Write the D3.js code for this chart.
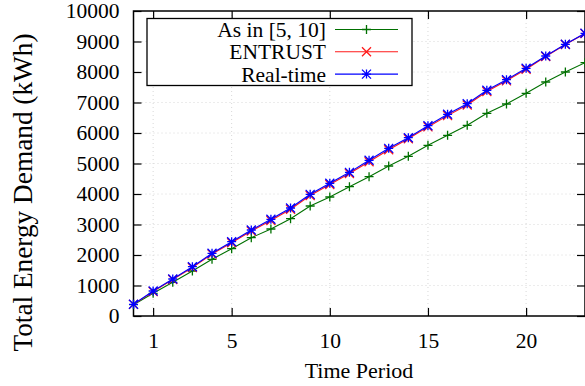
<!DOCTYPE html>
<html><head><meta charset="utf-8">
<script src="https://cdn.jsdelivr.net/npm/d3@7"></script>
<style>body{margin:0;background:#fff}svg{display:block}svg text{font-family:"Liberation Serif","Times New Roman","DejaVu Serif",serif !important;fill:#000}</style>
</head><body><svg id="c" width="585" height="386"></svg>
<script>
const periods = d3.range(0, 24);
const asIn = [370, 744, 1104, 1475, 1858, 2208, 2568, 2852, 3191, 3607, 3902, 4240, 4568, 4918, 5236, 5597, 5924, 6252, 6646, 6951, 7301, 7672, 8000, 8305];
const entrust = [380, 800, 1195, 1590, 2030, 2400, 2785, 3130, 3500, 3950, 4310, 4670, 5060, 5450, 5810, 6200, 6570, 6920, 7360, 7710, 8090, 8510, 8900, 9260];
const realtime = [384, 820, 1213, 1617, 2055, 2437, 2820, 3170, 3541, 3989, 4350, 4710, 5104, 5497, 5847, 6240, 6612, 6961, 7400, 7748, 8121, 8525, 8908, 9268];
const xTicks = [1, 5, 10, 15, 20];
const yTicks = d3.range(0, 10001, 1000);
const seriesNames = ["As in [5, 10]", "ENTRUST", "Real-time"];
const seriesColors = ["#007000", "#ff1a1a", "#0000ff"];
const seriesMarkers = ["plus", "cross", "star"];

const svg = d3.select("#c");
const L = 133.5, R = 585, T = 11, B = 316;
const x = d3.scaleLinear().domain([0, 23]).range([L, R]);
const y = d3.scaleLinear().domain([0, 10000]).range([B, T]);

// grid
const g = svg.append("g");
g.selectAll(".gx").data(xTicks).join("line")
  .attr("x1", d => x(d)).attr("x2", d => x(d)).attr("y1", T).attr("y2", B)
  .attr("stroke", "#d8d8d8").attr("stroke-dasharray", "1,3");
g.selectAll(".gy").data(yTicks.slice(1, -1)).join("line")
  .attr("x1", L).attr("x2", R).attr("y1", d => y(d)).attr("y2", d => y(d))
  .attr("stroke", "#d8d8d8").attr("stroke-dasharray", "1,3");

// axes
const tl = 8;
const ax = svg.append("g");
ax.append("g").attr("transform", `translate(0,${B})`)
  .call(d3.axisBottom(x).tickValues(xTicks).tickSize(-tl).tickPadding(17))
  .call(s => s.select(".domain").remove());
ax.append("g").attr("transform", `translate(0,${T})`)
  .call(d3.axisTop(x).tickValues(xTicks).tickSize(-tl).tickFormat(""))
  .call(s => s.select(".domain").remove());
ax.append("g").attr("transform", `translate(${L},0)`)
  .call(d3.axisLeft(y).tickValues(yTicks).tickSize(-tl).tickPadding(14).tickFormat(d3.format("d")))
  .call(s => s.select(".domain").remove());
ax.append("g").attr("transform", `translate(${R},0)`)
  .call(d3.axisRight(y).tickValues(yTicks).tickSize(-tl).tickFormat(""))
  .call(s => s.select(".domain").remove());
ax.selectAll("g").attr("font-family", null);
ax.selectAll(".tick line").attr("stroke", "#000").attr("stroke-width", 1.2);
ax.selectAll(".tick text").attr("font-size", 21.5);

svg.append("rect").attr("x", L).attr("y", T).attr("width", R - L).attr("height", B - T)
  .attr("fill", "none").attr("stroke", "#000").attr("stroke-width", 1.5);

function marker(sel, type, color) {
  const s = 4.5;
  let p;
  if (type === "plus") p = `M${-s},0H${s}M0,${-s}V${s}`;
  else if (type === "cross") p = `M${-s},${-s}L${s},${s}M${-s},${s}L${s},${-s}`;
  else p = `M${-s},0H${s}M0,${-s}V${s}M${-s},${-s}L${s},${s}M${-s},${s}L${s},${-s}`;
  sel.append("path").attr("d", p).attr("stroke", color).attr("stroke-width", 1.3).attr("fill", "none");
}

const data = [asIn, entrust, realtime];
const plot = svg.append("g");
data.forEach((vals, i) => {
  const pts = periods.map((p, j) => [p, vals[j]]);
  plot.append("path").datum(pts)
    .attr("d", d3.line().x(d => x(d[0])).y(d => y(d[1])))
    .attr("fill", "none").attr("stroke", seriesColors[i]).attr("stroke-width", 1.1);
  pts.forEach(d => {
    const gg = plot.append("g").attr("transform", `translate(${x(d[0])},${y(d[1])})`);
    marker(gg, seriesMarkers[i], seriesColors[i]);
  });
});

// legend
const lg = svg.append("g");
lg.append("rect").attr("x", 147).attr("y", 18.5).attr("width", 265).attr("height", 67)
  .attr("fill", "#fff").attr("stroke", "#000").attr("stroke-width", 1.3);
seriesNames.forEach((n, i) => {
  const cy = 29.5 + i * 22.3;
  lg.append("text").attr("x", 326).attr("y", cy + 7.5).attr("text-anchor", "end")
    .attr("font-size", 21.5).text(n);
  lg.append("line").attr("x1", 335).attr("x2", 398).attr("y1", cy).attr("y2", cy)
    .attr("stroke", seriesColors[i]).attr("stroke-width", 1.1);
  const gg = lg.append("g").attr("transform", `translate(366.5,${cy})`);
  marker(gg, seriesMarkers[i], seriesColors[i]);
});

// axis titles
svg.append("text").attr("x", 359).attr("y", 378).attr("text-anchor", "middle")
  .attr("font-size", 22).text("Time Period");
svg.append("text").attr("transform", "translate(31.5,192.5) rotate(-90)").attr("text-anchor", "middle")
  .attr("font-size", 27.3).text("Total Energy Demand (kWh)");
</script></body></html>
